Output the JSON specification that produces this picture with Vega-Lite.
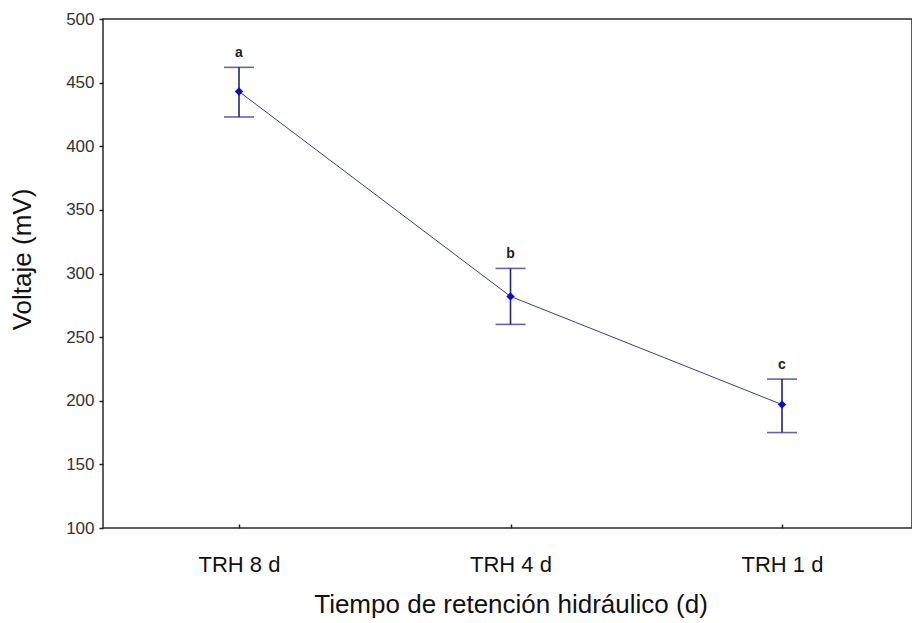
{
  "$schema": "https://vega.github.io/schema/vega-lite/v6.json",
  "autosize": {"type": "none"},
  "padding": {"left": 103, "top": 19, "right": 0, "bottom": 95},
  "width": 809,
  "height": 509,
  "background": "white",
  "config": {
    "font": "Liberation Sans",
    "view": {"stroke": "#2a2a2a", "strokeWidth": 1.5},
    "axis": {"grid": false, "domain": false}
  },
  "data": {
    "values": [
      {"trh": "TRH 8 d", "mean": 443, "lower": 423, "upper": 462, "letter": "a"},
      {"trh": "TRH 4 d", "mean": 282, "lower": 260, "upper": 304, "letter": "b"},
      {"trh": "TRH 1 d", "mean": 197, "lower": 175, "upper": 217, "letter": "c"}
    ]
  },
  "encoding": {
    "x": {
      "field": "trh",
      "type": "nominal",
      "sort": ["TRH 8 d", "TRH 4 d", "TRH 1 d"],
      "scale": {"type": "point", "range": [136, 679], "padding": 0},
      "axis": {
        "title": "Tiempo de retención hidráulico (d)",
        "titleFontSize": 26,
        "titleFontWeight": "normal",
        "titleColor": "#111",
        "titlePadding": 16,
        "labelFontSize": 22,
        "labelColor": "#111",
        "labelPadding": 30,
        "labelAngle": 0,
        "tickSize": -4,
        "tickColor": "#222",
        "tickWidth": 1.5
      }
    }
  },
  "layer": [
    {
      "mark": {"type": "line", "color": "#3a3d8c", "strokeWidth": 1},
      "encoding": {
        "y": {
          "field": "mean",
          "type": "quantitative",
          "scale": {"domain": [100, 500], "nice": false, "zero": false},
          "axis": {
            "title": "Voltaje (mV)",
            "titleFontSize": 26,
            "titleFontWeight": "normal",
            "titleColor": "#111",
            "titlePadding": 30,
            "titleY": 240,
            "values": [100, 150, 200, 250, 300, 350, 400, 450, 500],
            "labelFontSize": 17,
            "labelColor": "#333",
            "labelPadding": 5,
            "tickSize": 4,
            "tickColor": "#222",
            "tickWidth": 1.5
          }
        }
      }
    },
    {
      "mark": {"type": "rule", "color": "#1f2580", "strokeWidth": 1.6},
      "encoding": {
        "y": {"field": "lower", "type": "quantitative"},
        "y2": {"field": "upper"}
      }
    },
    {
      "mark": {"type": "tick", "color": "#1f2580", "size": 30, "thickness": 1.6, "orient": "horizontal"},
      "encoding": {"y": {"field": "upper", "type": "quantitative"}}
    },
    {
      "mark": {"type": "tick", "color": "#1f2580", "size": 30, "thickness": 1.6, "orient": "horizontal"},
      "encoding": {"y": {"field": "lower", "type": "quantitative"}}
    },
    {
      "mark": {"type": "point", "shape": "diamond", "filled": true, "color": "#0a10c8", "size": 70, "opacity": 1},
      "encoding": {"y": {"field": "mean", "type": "quantitative"}}
    },
    {
      "mark": {"type": "text", "dy": -14, "fontSize": 14, "fontWeight": "bold", "color": "#222"},
      "encoding": {
        "y": {"field": "upper", "type": "quantitative"},
        "text": {"field": "letter"}
      }
    }
  ]
}
